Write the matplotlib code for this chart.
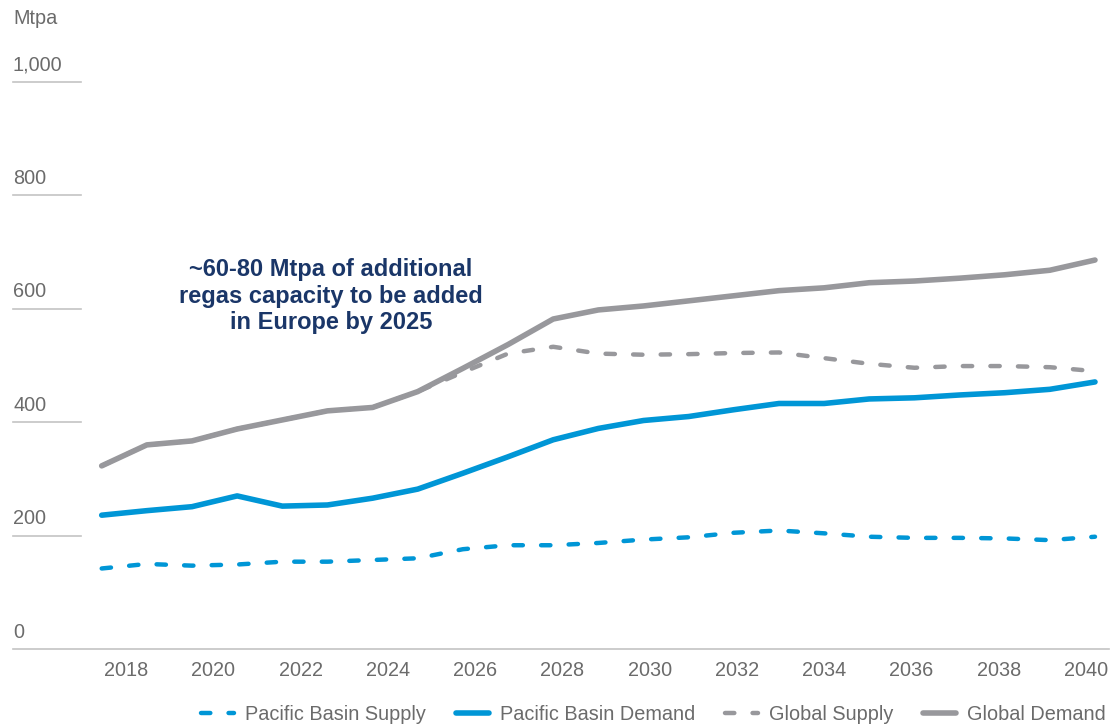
import matplotlib
matplotlib.use("Agg")
import matplotlib.pyplot as plt
import matplotlib.transforms as mtransforms
import numpy as np

plt.rcParams['font.family'] = ['Liberation Sans', 'DejaVu Sans']

years = list(range(2018, 2041))
pacific_supply = [142, 150, 147, 149, 154, 154, 157, 160, 176, 183, 183, 187, 193, 197,
                  205, 209, 204, 198, 196, 196, 195, 192, 198]
pacific_demand = [236, 244, 251, 270, 252, 254, 266, 282, 310, 339, 369, 389, 403, 410,
                  422, 433, 433, 441, 443, 448, 452, 458, 471]
global_supply = [323, 360, 367, 388, 404, 420, 426, 454, 488, 521, 533, 521, 519, 520,
                 522, 523, 513, 503, 496, 499, 499, 497, 490]
global_demand = [323, 360, 367, 388, 404, 420, 426, 454, 495, 537, 582, 598, 605, 614,
                 623, 632, 637, 646, 649, 654, 660, 668, 686]

y_ticks = [0, 200, 400, 600, 800, 1000]
y_tick_labels = ["0", "200", "400", "600", "800", "1,000"]
x_tick_labels = ["2018", "2020", "2022", "2024", "2026", "2028", "2030", "2032",
                 "2034", "2036", "2038", "2040"]

BLUE = '#0096D6'
GRAY = '#98989C'
TXT = '#6b6b6b'
GRID = '#C4C4C4'
NAVY = '#1a3668'
FS = 14.3

W, H = 1110, 727
fig = plt.figure(figsize=(W / 100, H / 100), dpi=100)
ax = fig.add_axes([13 / W, (H - 649) / H, (1109 - 13) / W, (649 - 82) / H])

px_per_year = (1095 - 101.7) / 22
ax.set_xlim(2018 - (101.7 - 13) / px_per_year, 2040 + (1109 - 1095) / px_per_year)
ax.set_ylim(0, 1000)

ax.plot(years, global_supply, color=GRAY, lw=3.2, ls=(0, (2.1, 4.1)),
        dash_capstyle='round', zorder=2, label='Global Supply', clip_on=False)
ax.plot(years, global_demand, color=GRAY, lw=4.0, solid_capstyle='round',
        solid_joinstyle='round', zorder=3, label='Global Demand', clip_on=False)
ax.plot(years, pacific_supply, color=BLUE, lw=3.2, ls=(0, (2.1, 4.1)),
        dash_capstyle='round', zorder=2, label='Pacific Basin Supply', clip_on=False)
ax.plot(years, pacific_demand, color=BLUE, lw=4.0, solid_capstyle='round',
        solid_joinstyle='round', zorder=3, label='Pacific Basin Demand', clip_on=False)

# gridlines: short stubs under labels, full zero line
frac = (81 - 13) / (1109 - 13)
for v in y_ticks:
    if v == 0:
        ax.axhline(v, xmin=0, xmax=1, color=GRID, lw=1.2, zorder=1, clip_on=False)
    else:
        ax.axhline(v, xmin=0, xmax=frac, color=GRID, lw=1.2, zorder=1, clip_on=False)

ytrans = mtransforms.offset_copy(ax.get_yaxis_transform(), fig=fig, x=0, y=12.2, units='points')
for v, lab in zip(y_ticks, y_tick_labels):
    ax.text(0, v, lab, transform=ytrans, ha='left', va='center', fontsize=FS, color=TXT)

fig.text(13 / W, 1 - 18 / H, "Mtpa", ha='left', va='center', fontsize=FS, color=TXT)

# x tick labels
first = 2018 + (126 - 101.7) / px_per_year
last = 2040 - (1095 - 1086) / px_per_year
ax.set_xticks(np.linspace(first, last, len(x_tick_labels)))
ax.set_xticklabels(x_tick_labels, fontsize=FS, color=TXT)
ax.tick_params(axis='x', length=0, pad=9)
ax.set_yticks([])
for s in ax.spines.values():
    s.set_visible(False)

fig.text(331 / W, 1 - 296 / H,
         "~60-80 Mtpa of additional\nregas capacity to be added\nin Europe by 2025",
         ha='center', va='center', fontsize=17, fontweight='bold', color=NAVY,
         linespacing=1.2)

handles, labels = ax.get_legend_handles_labels()
order = [2, 3, 0, 1]
leg = fig.legend([handles[i] for i in order], [labels[i] for i in order],
                 loc='center', bbox_to_anchor=(653.5 / W, 1 - 714 / H), ncol=4,
                 frameon=False, fontsize=FS, handlelength=1.66, handletextpad=0.55,
                 columnspacing=1.5, borderpad=0, borderaxespad=0)
for t in leg.get_texts():
    t.set_color(TXT)

fig.savefig('out.png', dpi=100)
